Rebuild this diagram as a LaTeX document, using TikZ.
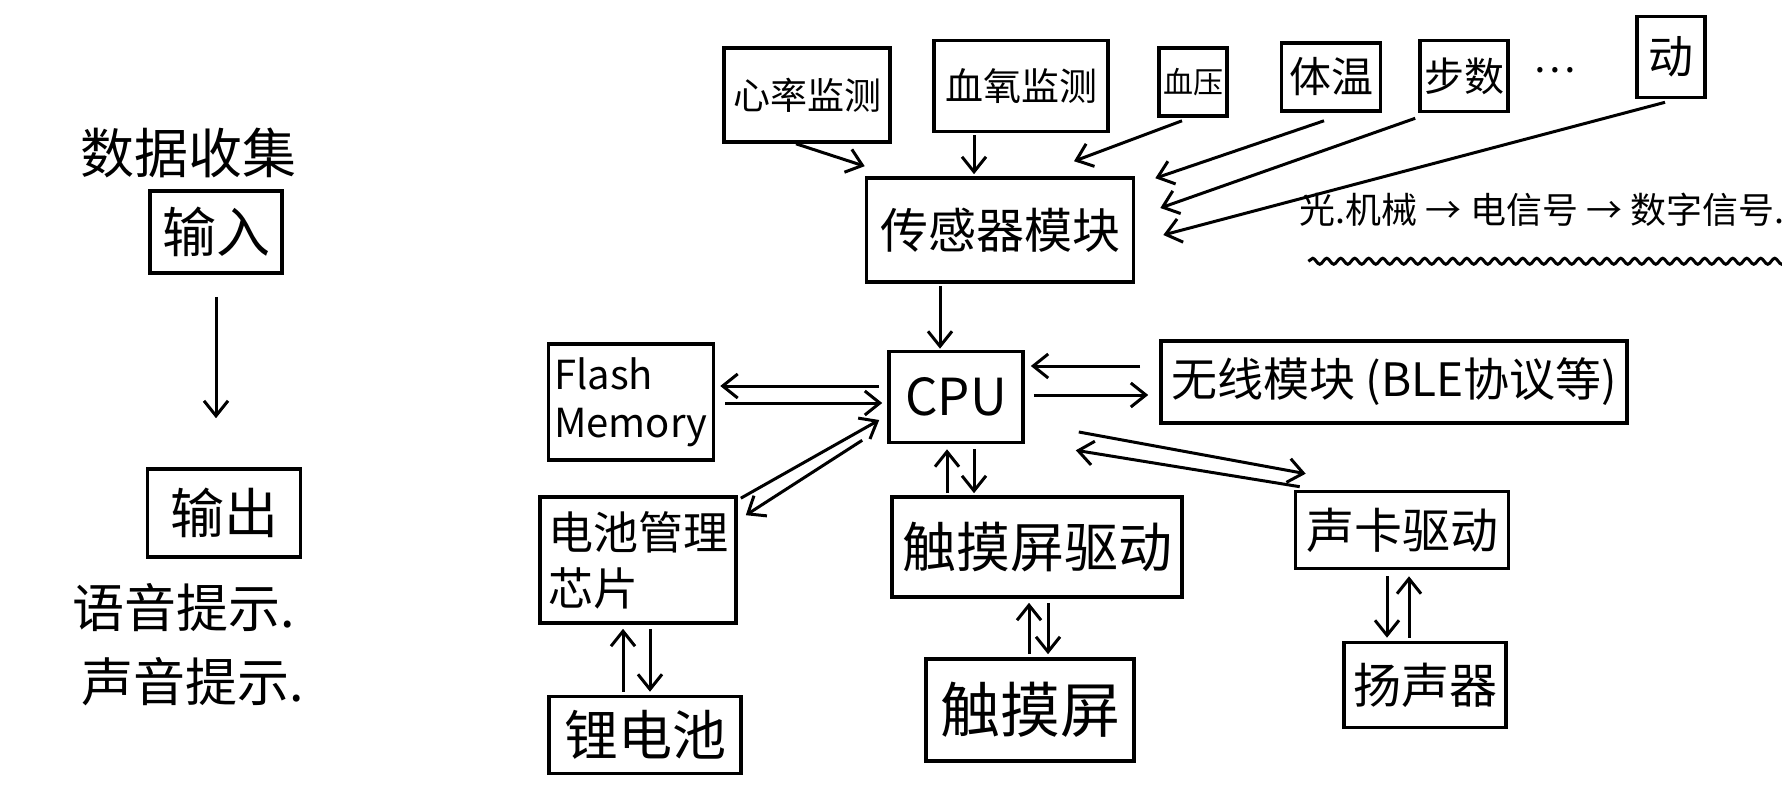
\documentclass[tikz,border=0pt]{standalone}
\usepackage{fontspec}
\setmainfont{Noto Sans CJK SC}
\usetikzlibrary{arrows.meta,calc,decorations.pathmorphing}
\newcommand{\handsize}[2]{\fontsize{#1}{#2}\selectfont}

\begin{document}
\begin{tikzpicture}[
  x=1pt, y=-1pt,
  >={Straight Barb[length=15pt,width=24pt]},
  block/.style={draw=black,line width=3.6pt,inner sep=2pt,align=center},
  flow/.style={->,line width=3pt,draw=black},
  wavy/.style={line width=3pt,decorate,
    decoration={snake,amplitude=3pt,segment length=14pt}}
]
  \useasboundingbox (0,0) rectangle (1782,786);
  \fill[white] (0,0) rectangle (1782,786);

  % left column
  \node[font=\handsize{54}{60}] (collect) at (188,153) {数据收集};
  \node[block,minimum width=132pt,minimum height=82pt,font=\handsize{54}{60}]
    (input) at (216,232) {输入};
  \node[block,minimum width=153pt,minimum height=88pt,font=\handsize{54}{60}]
    (output) at (224,513) {输出};
  \node[font=\handsize{52}{58}] (voice) at (184,608) {语音提示.};
  \node[font=\handsize{52}{58}] (beep) at (193,682) {声音提示.};
  \draw[flow] ($(input.south)+(0,22)$) -- ($(output.north)+(-8,-49)$);

  % sensors
  \node[block,minimum width=166pt,minimum height=94pt,font=\handsize{37}{44}]
    (heart) at (807,95) {心率监测};
  \node[block,minimum width=174pt,minimum height=91pt,font=\handsize{38}{44}]
    (spo2) at (1021,86) {血氧监测};
  \node[block,minimum width=68pt,minimum height=68pt,font=\handsize{30}{36}]
    (bp) at (1193,82) {血压};
  \node[block,minimum width=99pt,minimum height=68pt,font=\handsize{42}{48}]
    (temp) at (1331,77) {体温};
  \node[block,minimum width=88pt,minimum height=71pt,font=\handsize{40}{46}]
    (steps) at (1464,76) {步数};
  \node[font=\handsize{40}{46}] (dots) at (1555,70) {…};
  \node[block,minimum width=68pt,minimum height=81pt,font=\handsize{45}{50}]
    (motion) at (1671,57) {动};

  \node[block,minimum width=267pt,minimum height=104pt,font=\handsize{48}{54}]
    (sensor) at (1000,230) {传感器模块};
  \node[font=\handsize{36}{42}] (note) at (1542,210)
    {光.机械 → 电信号 → 数字信号.};
  \draw[wavy] ($(note.south west)+(12,31)$) -- ($(note.south east)+(4,31)$);

  \draw[flow] ($(heart.south)+(-11,0)$) -- ($(sensor.north west)+(0,-10)$);
  \draw[flow] ($(spo2.south)+(-47,2)$) -- ($(sensor.north)+(-26,-2)$);
  \draw[flow] ($(bp.south)+(-11,3)$) -- ($(sensor.north)+(74,-15)$);
  \draw[flow] ($(temp.south)+(-7,8)$) -- ($(sensor.north east)+(20,2)$);
  \draw[flow] ($(steps.south west)+(-3,5)$) -- ($(sensor.east)+(25,-22)$);
  \draw[flow] ($(motion.south)+(-6,3)$) -- ($(sensor.east)+(28,5)$);

  % core
  \node[block,minimum width=134pt,minimum height=91pt,font=\handsize{51}{56}]
    (cpu) at (956,397) {CPU};
  \node[block,minimum width=165pt,minimum height=116pt,align=left,
    font=\handsize{40}{48}] (flash) at (631,402) {Flash\\Memory};
  \node[block,minimum width=466pt,minimum height=82pt,font=\handsize{46}{52}]
    (wireless) at (1394,382) {无线模块 (BLE协议等)};
  \node[block,minimum width=196pt,minimum height=126pt,align=left,
    font=\handsize{45}{56}] (bms) at (638,560) {电池管理\\芯片};
  \node[block,minimum width=290pt,minimum height=100pt,font=\handsize{54}{60}]
    (tsdrv) at (1037,547) {触摸屏驱动};
  \node[block,minimum width=213pt,minimum height=77pt,font=\handsize{48}{54}]
    (sound) at (1402,530) {声卡驱动};
  \node[block,minimum width=192pt,minimum height=77pt,font=\handsize{54}{60}]
    (liion) at (645,735) {锂电池};
  \node[block,minimum width=208pt,minimum height=102pt,font=\handsize{60}{66}]
    (ts) at (1030,710) {触摸屏};
  \node[block,minimum width=162pt,minimum height=85pt,font=\handsize{48}{54}]
    (spk) at (1425,685) {扬声器};

  \draw[flow] ($(sensor.south)+(-60,2)$) -- ($(cpu.north)+(-16,-1)$);
  \draw[flow] ($(cpu.west)+(-8,-11)$) -- ($(flash.east)+(5,-16)$);
  \draw[flow] ($(flash.east)+(10,1)$) -- ($(cpu.west)+(-5,6)$);
  \draw[flow] ($(bms.north east)+(3,3)$) -- ($(cpu.west)+(-8,23)$);
  \draw[flow] ($(cpu.south west)+(-25,-4)$) -- ($(bms.north east)+(8,20)$);
  \draw[flow] ($(wireless.west)+(-19,-16)$) -- ($(cpu.east)+(6,-31)$);
  \draw[flow] ($(cpu.east)+(9,-2)$) -- ($(wireless.west)+(-11,13)$);
  \draw[flow] ($(cpu.east)+(54,35)$) -- ($(sound.north west)+(12,-16)$);
  \draw[flow] ($(sound.north west)+(6,-3)$) -- ($(cpu.south east)+(51,6)$);
  \draw[flow] ($(tsdrv.north)+(-90,-2)$) -- ($(cpu.south)+(-9,5)$);
  \draw[flow] ($(cpu.south)+(18,5)$) -- ($(tsdrv.north)+(-63,-2)$);
  \draw[flow] ($(ts.north)+(-1,-3)$) -- ($(tsdrv.south)+(-8,4)$);
  \draw[flow] ($(tsdrv.south)+(11,4)$) -- ($(ts.north)+(18,-3)$);
  \draw[flow] ($(liion.north)+(-22,-3)$) -- ($(bms.south)+(-15,4)$);
  \draw[flow] ($(bms.south)+(12,4)$) -- ($(liion.north)+(5,-3)$);
  \draw[flow] ($(sound.south)+(-15,6)$) -- ($(spk.north)+(-38,-3)$);
  \draw[flow] ($(spk.north)+(-16,-3)$) -- ($(sound.south)+(7,6)$);
\end{tikzpicture}
\end{document}
